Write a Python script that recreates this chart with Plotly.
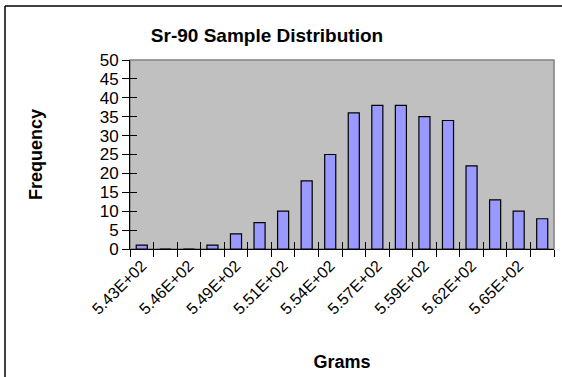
import plotly.graph_objects as go

# Data
bin_centers = [543.04, 544.41, 545.78, 547.15, 548.52, 549.89, 551.26, 552.63, 554.00,
               555.37, 556.74, 558.11, 559.48, 560.85, 562.22, 563.59, 564.96, 566.33]
frequency = [1, 0, 0, 1, 4, 7, 10, 18, 25, 36, 38, 38, 35, 34, 22, 13, 10, 8]
tick_labels = ["%.2E" % v for v in bin_centers]

idx = list(range(len(bin_centers)))
label_idx = idx[::2]
label_text = [tick_labels[i] for i in label_idx]
boundaries = [i - 0.5 for i in range(len(bin_centers) + 1)]
y_ticks = list(range(0, 51, 5))

FONT = "Liberation Sans, Arial, sans-serif"

fig = go.Figure()
fig.add_trace(go.Bar(
    x=idx, y=frequency, width=0.47,
    marker=dict(color="#9999ff", line=dict(color="black", width=1.2)),
    showlegend=False, hovertext=tick_labels,
))
fig.add_trace(go.Scatter(x=[None], y=[None], xaxis="x2", yaxis="y2",
                         showlegend=False, hoverinfo="skip"))
fig.add_trace(go.Scatter(x=[None], y=[None], xaxis="x3", yaxis="y",
                         showlegend=False, hoverinfo="skip"))

xr = [-0.5, len(bin_centers) - 0.5]
fig.update_layout(
    width=562, height=377,
    margin=dict(l=130, r=8, t=60, b=128),
    paper_bgcolor="white", plot_bgcolor="#c0c0c0",
    font=dict(family=FONT, size=17, color="black"),
    title=dict(text="<b>Sr-90 Sample Distribution</b>", x=267 / 562, xref="container",
               xanchor="center", y=1 - 35 / 377, yanchor="middle",
               font=dict(size=19, family=FONT, color="black")),
    xaxis=dict(range=xr, tickmode="array", tickvals=label_idx, ticktext=label_text,
               tickangle=-45, ticks="", showgrid=False, zeroline=False,
               showline=True, linecolor="black", linewidth=1,
               tickfont=dict(size=16),
               title=dict(text="<b>Grams</b>", standoff=38, font=dict(size=18))),
    yaxis=dict(range=[0, 50], tickmode="array", tickvals=y_ticks,
               ticks="outside", ticklen=7, tickcolor="black", tickwidth=1,
               showgrid=False, zeroline=False, showline=True, linecolor="black",
               tickfont=dict(size=17),
               title=dict(text="<b>Frequency</b>", standoff=52, font=dict(size=18))),
    xaxis2=dict(range=xr, overlaying="x", anchor="y2", tickmode="array",
                tickvals=boundaries, ticks="outside", ticklen=7, tickcolor="black",
                showticklabels=False, showgrid=False, zeroline=False, showline=False),
    yaxis2=dict(range=[0, 50], overlaying="y", anchor="x2", tickmode="array",
                tickvals=y_ticks, ticks="inside", ticklen=7, tickcolor="black",
                showticklabels=False, showgrid=False, zeroline=False, showline=False),
    xaxis3=dict(range=xr, overlaying="x", anchor="y", tickmode="array",
                tickvals=boundaries, ticks="inside", ticklen=7,
                tickcolor="black", showticklabels=False, showgrid=False,
                zeroline=False, showline=False),
    shapes=[
        dict(type="rect", xref="paper", yref="paper", x0=0, x1=1, y0=0, y1=1,
             line=dict(color="#808080", width=1.5), layer="below"),
        dict(type="line", xref="paper", yref="paper", x0=(5 - 130) / 424, x1=(5 - 130) / 424,
             y0=(249 - 6) / 189, y1=(249 - 400) / 189, line=dict(color="black", width=1.5)),
        dict(type="line", xref="paper", yref="paper", x0=(5 - 130) / 424, x1=(600 - 130) / 424,
             y0=(249 - 6) / 189, y1=(249 - 6) / 189, line=dict(color="black", width=1.5)),
    ],
)

fig.write_html("out.html", config={"displayModeBar": False},
               post_script="document.body.style.margin='0';document.body.style.overflow='hidden';")
